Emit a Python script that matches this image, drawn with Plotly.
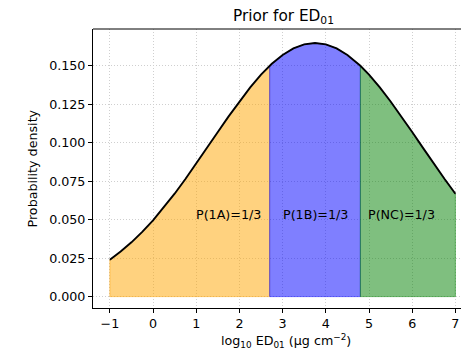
import plotly.graph_objects as go

# Prior density curve
curve_x = [-1.0, -0.75, -0.5, -0.25, 0.0, 0.25, 0.5, 0.75, 1.0, 1.25, 1.5, 1.75,
           2.0, 2.25, 2.5, 2.7, 2.75, 3.0, 3.25, 3.5, 3.75, 4.0, 4.25, 4.5, 4.75,
           4.8, 5.0, 5.25, 5.5, 5.75, 6.0, 6.25, 6.5, 6.75, 7.0]
curve_y = [0.0240, 0.0293, 0.0353, 0.0421, 0.0496, 0.0579, 0.0669, 0.0765,
           0.0864, 0.0967, 0.1070, 0.1172, 0.1269, 0.1360, 0.1443, 0.1501,
           0.1514, 0.1571, 0.1614, 0.1640, 0.1649, 0.1640, 0.1614, 0.1571,
           0.1514, 0.1501, 0.1443, 0.1360, 0.1269, 0.1172, 0.1070, 0.0967,
           0.0864, 0.0765, 0.0669]

# Region boundaries and labels
bounds = [-1.0, 2.7, 4.8, 7.0]
region_labels = ["P(1A)=1/3", "P(1B)=1/3", "P(NC)=1/3"]
label_x = [1.75, 3.75, 5.75]
label_y = 0.0531

y_ticks = [0.0, 0.025, 0.05, 0.075, 0.1, 0.125, 0.15]
x_ticks = [-1, 0, 1, 2, 3, 4, 5, 6, 7]

fill_colors = ["rgba(255,165,0,0.5)", "rgba(0,0,255,0.5)", "rgba(0,128,0,0.5)"]

FONT = "DejaVu Sans"
FS = 12.7
fig = go.Figure()

for i in range(3):
    lo, hi = bounds[i], bounds[i + 1]
    xs = [x for x in curve_x if lo <= x <= hi]
    ys = [y for x, y in zip(curve_x, curve_y) if lo <= x <= hi]
    px = [xs[0]] + xs + [xs[-1], xs[0]]
    py = [0.0] + ys + [0.0, 0.0]
    fig.add_trace(go.Scatter(x=px, y=py, mode="lines", fill="toself",
                             fillcolor=fill_colors[i],
                             line=dict(color=fill_colors[i], width=1),
                             hoverinfo="skip", showlegend=False))

fig.add_trace(go.Scatter(x=curve_x, y=curve_y, mode="lines",
                         line=dict(color="black", width=1.9), showlegend=False))

for t, x in zip(region_labels, label_x):
    fig.add_annotation(x=x, y=label_y, text=t, showarrow=False,
                       xanchor="center", yanchor="middle",
                       font=dict(family=FONT, size=FS, color="black"))

# title and axis labels
fig.add_annotation(xref="paper", yref="paper", x=(283.5 - 93) / 368, y=(308 - 17) / 279,
                   text="Prior for ED<sub>01</sub>", showarrow=False,
                   xanchor="center", yanchor="middle",
                   font=dict(family=FONT, size=15.3, color="black"))
fig.add_annotation(xref="paper", yref="paper", x=(285.5 - 93) / 368, y=-(341 - 308) / 279,
                   text="log<sub>10</sub> ED<sub>01</sub> (μg cm<sup>−2</sup>)",
                   showarrow=False, xanchor="center", yanchor="middle",
                   font=dict(family=FONT, size=FS, color="black"))
fig.add_annotation(xref="paper", yref="paper", x=(32 - 93) / 368, y=0.5,
                   text="Probability density", showarrow=False, textangle=-90,
                   xanchor="center", yanchor="middle",
                   font=dict(family=FONT, size=FS, color="black"))

# top spine
fig.add_shape(type="line", xref="paper", yref="paper", x0=0, x1=1, y0=1, y1=1,
              line=dict(color="black", width=1))

fig.update_layout(
    width=461, height=354,
    margin=dict(l=93, r=0, t=29, b=46),
    paper_bgcolor="white", plot_bgcolor="white",
    font=dict(family=FONT, size=FS, color="black"),
)
grid = dict(showgrid=True, gridcolor="#cfcfcf", griddash="1px,2px", gridwidth=1)
fig.update_xaxes(range=[-1.39, 7.13], tickvals=x_ticks, ticks="outside",
                 ticklen=4, tickcolor="black", showline=True, linecolor="black",
                 linewidth=1, zeroline=False, tickfont=dict(size=FS), **grid)
fig.update_yaxes(range=[-0.0074, 0.1740], tickvals=y_ticks, tickformat=".3f",
                 ticks="outside", ticklen=4, tickcolor="black", showline=True,
                 linecolor="black", linewidth=1, zeroline=False,
                 tickfont=dict(size=FS), **grid)

fig.write_html("out.html", config={"displayModeBar": False},
               post_script="document.body.style.margin='0';")
